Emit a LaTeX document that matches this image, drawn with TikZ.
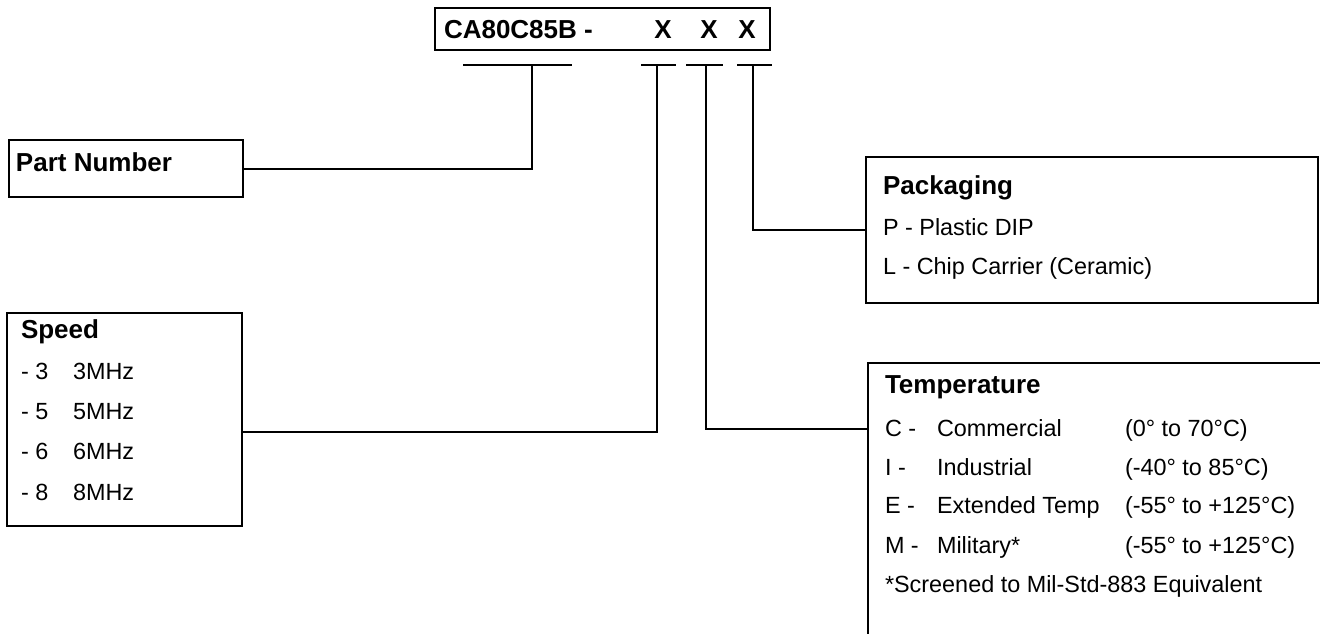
\documentclass[tikz,border=0pt]{standalone}
\usepackage{fontspec}
\setmainfont{Liberation Sans}
\usetikzlibrary{positioning}

\begin{document}
\begin{tikzpicture}[x=0.5pt,y=-0.5pt,line width=1pt,font=\fontsize{11.7}{14}\selectfont,every node/.style={inner sep=0pt,outer sep=0pt},box/.style={draw,anchor=north west},txt/.style={anchor=base west},hd/.style={anchor=base west,font=\fontsize{13}{15}\selectfont\bfseries}]
\useasboundingbox (0,0) rectangle (1320,633);
\clip (0,0) rectangle (1320,633);
\node[box, minimum width=167.5pt, minimum height=21pt] (code) at (435,8) {};
\node[box, minimum width=117pt, minimum height=28.5pt] (partnum) at (9,140) {};
\node[box, minimum width=117.5pt, minimum height=106.5pt] (speed) at (7,313) {};
\node[box, minimum width=226pt, minimum height=73pt] (packaging) at (866,157) {};
\node[box, minimum width=236pt, minimum height=148.5pt] (temp) at (868,363) {};
\node[hd] (name) at (444,38) {CA80C85B -};
\node[anchor=base,font=\fontsize{13}{15}\selectfont\bfseries] (x1) at (663,38) {X};
\node[anchor=base,font=\fontsize{13}{15}\selectfont\bfseries] (x2) at (709,38) {X};
\node[anchor=base,font=\fontsize{13}{15}\selectfont\bfseries] (x3) at (747,38) {X};
\node[hd] (pn) at (16,171) {Part Number};
\node[hd] (sph) at (21,338) {Speed};
\node[txt] (sp3) at (21,379) {- 3}; \node[txt] (mhz3) at (73,379) {3MHz};
\node[txt] (sp5) at (21,419) {- 5}; \node[txt] (mhz5) at (73,419) {5MHz};
\node[txt] (sp6) at (21,459) {- 6}; \node[txt] (mhz6) at (73,459) {6MHz};
\node[txt] (sp8) at (21,500) {- 8}; \node[txt] (mhz8) at (73,500) {8MHz};
\node[hd] (pkh) at (883,194) {Packaging};
\node[txt] (pkp) at (883,235) {P - Plastic DIP};
\node[txt] (pkl) at (883,274) {L - Chip Carrier (Ceramic)};
\node[hd] (th) at (885,393) {Temperature};
\node[txt] (tc) at (885,436) {C -}; \node[txt] (tcn) at (937,436) {Commercial}; \node[txt] (tcr) at (1125,436) {(0° to 70°C)};
\node[txt] (ti) at (885,475) {I -}; \node[txt] (tin) at (937,475) {Industrial}; \node[txt] (tir) at (1125,475) {(-40° to 85°C)};
\node[txt] (te) at (885,513) {E -}; \node[txt] (ten) at (937,513) {Extended Temp}; \node[txt] (ter) at (1125,513) {(-55° to +125°C)};
\node[txt] (tm) at (885,553) {M -}; \node[txt] (tmn) at (937,553) {Military*}; \node[txt] (tmr) at (1125,553) {(-55° to +125°C)};
\node[txt] (tf) at (885,592) {*Screened to Mil-Std-883 Equivalent};
% field bars
\draw (463,65) -- (572,65);
\draw (641,65) -- (676,65);
\draw (686,65) -- (723,65);
\draw (737,65) -- (772,65);
\coordinate (s1) at (532,65);
\coordinate (s2) at (657,65);
\coordinate (s3) at (706,65);
\coordinate (s4) at (753,65);
\draw (s1) |- (partnum.east);
\draw (s2) |- ([yshift=-6.25pt]speed.east);
\draw (s3) |- ([yshift=-33pt]temp.north west);
\draw (s4) |- (packaging.west);
\end{tikzpicture}
\end{document}
